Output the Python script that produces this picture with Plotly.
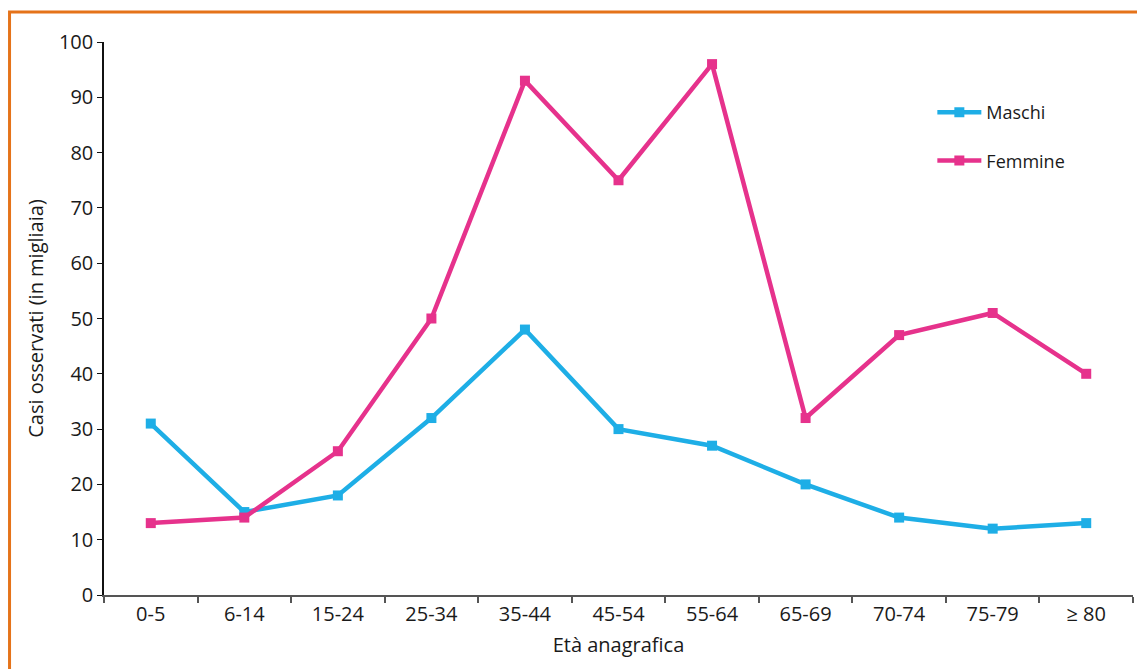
import plotly.graph_objects as go

categories = ["0-5", "6-14", "15-24", "25-34", "35-44", "45-54", "55-64", "65-69", "70-74", "75-79", "≥ 80"]
maschi = [31, 15, 18, 32, 48, 30, 27, 20, 14, 12, 13]
femmine = [13, 14, 26, 50, 93, 75, 96, 32, 47, 51, 40]

FONT = "Open Sans"
fig = go.Figure()
fig.add_trace(go.Scatter(x=categories, y=maschi, name="Maschi", mode="lines+markers",
                         line=dict(color="#1EAEE6", width=4.5),
                         marker=dict(symbol="square", size=10, color="#1EAEE6"),
                         legendgroup="m"))
fig.add_trace(go.Scatter(x=categories, y=femmine, name="Femmine", mode="lines+markers",
                         line=dict(color="#E6328C", width=4.5),
                         marker=dict(symbol="square", size=10, color="#E6328C"),
                         legendgroup="f"))

fig.update_layout(
    width=1145, height=669,
    margin=dict(l=96, r=20, t=34, b=82),
    plot_bgcolor="white", paper_bgcolor="white",
    font=dict(family=FONT, size=19, color="#1a1a1a"),
    showlegend=True,
    legend=dict(x=0.805, y=0.906, xanchor="left", yanchor="top",
                font=dict(size=18, color="#1a1a1a"), tracegroupgap=22,
                itemwidth=44, bgcolor="rgba(0,0,0,0)"),
    xaxis=dict(type="category", range=[-0.5, 10.5], showline=True, linecolor="#555555",
               linewidth=2, ticks="outside", tickson="boundaries", ticklen=6,
               tickcolor="#555555", tickwidth=1.5, showgrid=False,
               title=dict(text="Età anagrafica", font=dict(size=20), standoff=12),
               tickfont=dict(size=20)),
    yaxis=dict(range=[0, 100], dtick=10, showline=True, linecolor="#111111",
               linewidth=1.5, ticks="outside", ticklen=5, tickcolor="#111111",
               showgrid=False, zeroline=False,
               title=dict(text="Casi osservati (in migliaia)", font=dict(size=20), standoff=10),
               tickfont=dict(size=20)),
    shapes=[dict(type="rect", xref="paper", yref="paper",
                 x0=-0.0918, x1=1.2, y0=-0.5, y1=1.0542,
                 line=dict(color="#E5731A", width=3), fillcolor="rgba(0,0,0,0)",
                 layer="below")],
)

fig.write_html("out.html")
